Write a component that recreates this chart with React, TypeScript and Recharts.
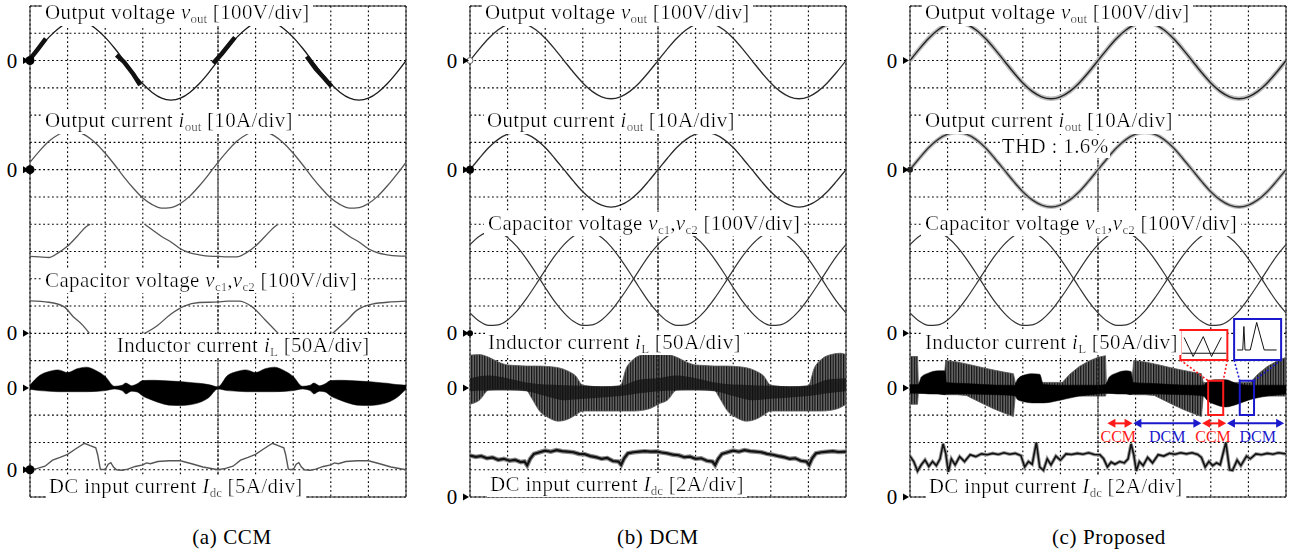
import React from "react";
import {
  ComposedChart,
  Line,
  Area,
  XAxis,
  YAxis,
  CartesianGrid,
  ReferenceLine,
  ReferenceArea,
  ReferenceDot,
} from "recharts";

type Pt = [number, number | null];
type Band = [number, number, number];

// all values are in scope divisions, relative to the channel's zero marker
const STEP = 0.25;
const X_TICKS = [0, 1, 2, 3, 4, 5, 6, 7, 8, 9, 10];
const Y_TICKS = [0, 1, 2, 3, 4, 5, 6, 7, 8, 9, 10, 11, 12, 13, 14, 15, 16, 17, 18];

// channel zero levels (divisions above the bottom of the screen)
const ZERO_A = { vOut: 16, iOut: 12, vC: 6, iL: 4, iDc: 1 };
const ZERO_BC = { vOut: 16, iOut: 12, vC: 6, iL: 4, iDc: 0 };

// ---- (a) CCM ----
const vOutA = [0, 0.45, 0.85, 1.17, 1.38, 1.45, 1.38, 1.17, 0.85, 0.45, 0, -0.45, -0.85, -1.17, -1.38, -1.45, -1.38, -1.17, -0.85, -0.45,
  0, 0.45, 0.85, 1.17, 1.38, 1.45, 1.38, 1.17, 0.85, 0.45, 0, -0.45, -0.85, -1.17, -1.38, -1.45, -1.38, -1.17, -0.85, -0.45, 0];
const vOutNoiseA: Pt[] = [[0, 0.05], [0.2, 0.4], [0.42, 0.8], [0.43, null], [2.3, 0.2], [2.5, -0.05], [2.75, -0.5], [2.93, -0.9], [2.94, null],
  [4.87, -0.1], [5.1, 0.25], [5.45, 0.85], [5.46, null], [7.36, 0.15], [7.6, -0.3], [7.8, -0.6], [8.02, -0.95]];
const iOutA = [0.27, 0.68, 1.04, 1.28, 1.41, 1.39, 1.24, 0.97, 0.6, 0.18, -0.27, -0.68, -1.04, -1.28, -1.41, -1.39, -1.24, -0.97, -0.6, -0.18,
  0.27, 0.68, 1.04, 1.28, 1.41, 1.39, 1.24, 0.97, 0.6, 0.18, -0.27, -0.68, -1.04, -1.28, -1.41, -1.39, -1.24, -0.97, -0.6, -0.18, 0.27];
const vC1A: Pt[] = [[0, 2.82], [0.25, 2.8], [0.5, 2.78], [0.75, 2.95], [1.0, 3.2], [1.25, 3.55], [1.5, 3.92], [1.6, 4.0], [1.61, null],
  [3.05, 4.0], [3.25, 3.8], [3.5, 3.55], [3.75, 3.35], [4.0, 3.1], [4.25, 2.95], [4.5, 2.88], [4.75, 2.83], [5.0, 2.82], [5.25, 2.8],
  [5.5, 2.8], [5.75, 2.95], [6.0, 3.2], [6.25, 3.55], [6.5, 3.9], [6.6, 4.0], [6.61, null], [8.05, 4.0], [8.25, 3.8], [8.5, 3.55],
  [8.75, 3.35], [9.0, 3.1], [9.25, 2.95], [9.5, 2.88], [9.75, 2.84], [10, 2.83]];
const vC2A: Pt[] = [[0, 1.19], [0.5, 1.14], [0.9, 0.98], [1.15, 0.61], [1.4, 0.3], [1.58, 0], [1.59, null], [3.05, 0], [3.4, 0.3],
  [3.75, 0.71], [4.1, 1.0], [4.5, 1.13], [5.0, 1.15], [5.25, 1.18], [5.55, 1.18], [5.9, 0.98], [6.25, 0.5], [6.6, 0], [6.61, null],
  [8.05, 0], [8.4, 0.44], [8.7, 0.85], [9.1, 1.07], [9.6, 1.15], [10, 1.18]];
const iLA: Band[] = [[0, -0.05, 0.1], [0.25, -0.1, 0.45], [0.5, -0.12, 0.6], [0.75, -0.14, 0.66], [1.0, -0.14, 0.56], [1.25, -0.14, 0.7],
  [1.5, -0.14, 0.76], [1.75, -0.13, 0.64], [2.0, -0.1, 0.42], [2.25, -0.04, 0.06], [2.45, -0.1, 0.1], [2.55, -0.22, 0.18], [2.7, -0.12, 0.08],
  [2.85, -0.15, 0.15], [3.0, -0.3, 0.27], [3.25, -0.45, 0.28], [3.5, -0.57, 0.27], [3.75, -0.64, 0.25], [4.0, -0.65, 0.23], [4.25, -0.62, 0.2],
  [4.5, -0.54, 0.17], [4.75, -0.36, 0.12], [5.0, -0.04, 0.04], [5.25, -0.1, 0.45], [5.5, -0.12, 0.6], [5.75, -0.14, 0.66], [6.0, -0.14, 0.56],
  [6.25, -0.14, 0.7], [6.5, -0.14, 0.76], [6.75, -0.13, 0.64], [7.0, -0.1, 0.42], [7.25, -0.04, 0.06], [7.45, -0.1, 0.1], [7.55, -0.22, 0.18],
  [7.7, -0.12, 0.08], [7.85, -0.15, 0.15], [8.0, -0.3, 0.27], [8.25, -0.45, 0.28], [8.5, -0.57, 0.27], [8.75, -0.64, 0.25], [9.0, -0.65, 0.23],
  [9.25, -0.62, 0.2], [9.5, -0.54, 0.17], [9.75, -0.36, 0.12], [10, -0.05, 0.1]];
const iDcA: Pt[] = [[0, 0], [0.2, 0.05], [0.4, 0.13], [0.6, 0.35], [0.8, 0.45], [1.0, 0.56], [1.2, 0.75], [1.45, 0.97], [1.6, 0.88], [1.75, 0.8],
  [1.8, 0.55], [1.87, 0.02], [2.0, 0], [2.08, 0.2], [2.15, 0.26], [2.22, 0.1], [2.3, 0], [2.45, -0.02], [2.6, 0.02], [2.8, 0.12], [3.0, 0.18],
  [3.1, 0.25], [3.2, 0.22], [3.4, 0.3], [3.7, 0.33], [4.0, 0.33], [4.3, 0.22], [4.6, 0.1], [5.0, 0], [5.2, 0.05], [5.4, 0.13], [5.6, 0.35],
  [5.8, 0.45], [6.0, 0.56], [6.2, 0.75], [6.45, 0.97], [6.6, 0.88], [6.75, 0.8], [6.8, 0.55], [6.87, 0.02], [7.0, 0], [7.08, 0.2], [7.15, 0.26],
  [7.22, 0.1], [7.3, 0], [7.45, -0.02], [7.6, 0.02], [7.8, 0.12], [8.0, 0.18], [8.1, 0.25], [8.2, 0.22], [8.4, 0.3], [8.7, 0.33], [9.0, 0.33],
  [9.3, 0.22], [9.6, 0.1], [10, 0]];

// ---- (b) DCM and (c) proposed ----
const vOutBC = [0, 0.43, 0.82, 1.13, 1.33, 1.4, 1.33, 1.13, 0.82, 0.43, 0, -0.43, -0.82, -1.13, -1.33, -1.4, -1.33, -1.13, -0.82, -0.43,
  0, 0.43, 0.82, 1.13, 1.33, 1.4, 1.33, 1.13, 0.82, 0.43, 0, -0.43, -0.82, -1.13, -1.33, -1.4, -1.33, -1.13, -0.82, -0.43, 0];
const iOutBC = [0, 0.42, 0.81, 1.11, 1.3, 1.37, 1.3, 1.11, 0.81, 0.42, 0, -0.42, -0.81, -1.11, -1.3, -1.37, -1.3, -1.11, -0.81, -0.42,
  0, 0.42, 0.81, 1.11, 1.3, 1.37, 1.3, 1.11, 0.81, 0.42, 0, -0.42, -0.81, -1.11, -1.3, -1.37, -1.3, -1.11, -0.81, -0.42, 0];
const vC1BC = [0.75, 0.44, 0.29, 0.31, 0.49, 0.82, 1.27, 1.78, 2.32, 2.83, 3.25, 3.56, 3.71, 3.69, 3.51, 3.18, 2.73, 2.22, 1.68, 1.17,
  0.75, 0.44, 0.29, 0.31, 0.49, 0.82, 1.27, 1.78, 2.32, 2.83, 3.25, 3.56, 3.71, 3.69, 3.51, 3.18, 2.73, 2.22, 1.68, 1.17, 0.75];
const vC2BC = [3.25, 3.56, 3.71, 3.69, 3.51, 3.18, 2.73, 2.22, 1.68, 1.17, 0.75, 0.44, 0.29, 0.31, 0.49, 0.82, 1.27, 1.78, 2.32, 2.83,
  3.25, 3.56, 3.71, 3.69, 3.51, 3.18, 2.73, 2.22, 1.68, 1.17, 0.75, 0.44, 0.29, 0.31, 0.49, 0.82, 1.27, 1.78, 2.32, 2.83, 3.25];
const iLB: Band[] = [[0, -0.6, 1.2], [0.25, -0.45, 1.22], [0.5, -0.08, 1.12], [0.75, -0.06, 0.95], [1.0, -0.06, 0.84], [1.25, -0.06, 0.82],
  [1.5, -0.1, 0.8], [1.65, -0.4, 0.8], [1.85, -0.85, 0.8], [2.1, -1.1, 0.78], [2.35, -1.22, 0.74], [2.6, -1.15, 0.62], [2.8, -1.0, 0.45],
  [3.0, -0.85, 0.1], [3.5, -0.85, 0.04], [4.0, -0.85, 0.08], [4.15, -0.85, 0.7], [4.35, -0.85, 1.05], [4.6, -0.82, 1.22], [4.85, -0.72, 1.27],
  [5.0, -0.6, 1.22], [5.25, -0.45, 1.22], [5.5, -0.08, 1.12], [5.75, -0.06, 0.95], [6.0, -0.06, 0.84], [6.25, -0.06, 0.82], [6.5, -0.1, 0.8],
  [6.65, -0.4, 0.8], [6.85, -0.85, 0.8], [7.1, -1.1, 0.78], [7.35, -1.22, 0.74], [7.6, -1.15, 0.62], [7.8, -1.0, 0.45], [8.0, -0.85, 0.1],
  [8.5, -0.85, 0.04], [9.0, -0.85, 0.08], [9.15, -0.85, 0.7], [9.35, -0.85, 1.05], [9.6, -0.82, 1.22], [9.85, -0.72, 1.27], [10, -0.6, 1.22]];
// dense switching core around zero
const iLCoreB: Band[] = [[0, -0.12, 0.35], [0.5, -0.1, 0.45], [1.0, -0.1, 0.35], [1.5, -0.12, 0.2], [2.0, -0.3, 0.12], [2.5, -0.45, 0.1],
  [3.0, -0.4, 0.08], [3.5, -0.35, 0.06], [4.0, -0.3, 0.08], [4.5, -0.2, 0.3], [5.0, -0.12, 0.35], [5.5, -0.1, 0.45], [6.0, -0.1, 0.35],
  [6.5, -0.12, 0.2], [7.0, -0.3, 0.12], [7.5, -0.45, 0.1], [8.0, -0.4, 0.08], [8.5, -0.35, 0.06], [9.0, -0.3, 0.08], [9.5, -0.2, 0.3],
  [10, -0.12, 0.35]];
const iDcB: Pt[] = [[0, 1.52], [0.15, 1.47], [0.3, 1.5], [0.45, 1.42], [0.6, 1.45], [0.75, 1.36], [0.9, 1.4], [1.05, 1.33], [1.2, 1.36],
  [1.35, 1.28], [1.45, 1.3], [1.52, 1.16], [1.6, 1.4], [1.7, 1.58], [1.85, 1.64], [2.0, 1.7], [2.15, 1.66], [2.3, 1.72], [2.45, 1.68],
  [2.6, 1.66], [2.75, 1.64], [2.9, 1.58], [3.05, 1.57], [3.2, 1.5], [3.35, 1.46], [3.5, 1.4], [3.65, 1.43], [3.8, 1.32], [3.95, 1.3],
  [4.02, 1.18], [4.1, 1.42], [4.2, 1.6], [4.35, 1.64], [4.5, 1.66], [4.65, 1.68], [4.8, 1.66], [4.95, 1.67], [5.1, 1.63], [5.25, 1.6],
  [5.4, 1.55], [5.55, 1.53], [5.7, 1.46], [5.85, 1.48], [6.0, 1.4], [6.15, 1.42], [6.3, 1.33], [6.45, 1.3], [6.52, 1.17], [6.6, 1.4],
  [6.7, 1.58], [6.85, 1.64], [7.0, 1.7], [7.15, 1.66], [7.3, 1.72], [7.45, 1.68], [7.6, 1.66], [7.75, 1.64], [7.9, 1.58], [8.05, 1.55],
  [8.2, 1.5], [8.35, 1.46], [8.5, 1.4], [8.65, 1.42], [8.8, 1.33], [8.95, 1.3], [9.02, 1.17], [9.1, 1.42], [9.2, 1.6], [9.35, 1.64],
  [9.5, 1.66], [9.65, 1.68], [9.8, 1.65], [10, 1.66]];
const iLGrayC: Band[] = [[0, -0.6, 1.15], [0.2, -0.6, 1.15], [0.22, -0.2, 0.2], [0.9, -0.22, 0.2], [0.95, -0.25, 1.0], [1.25, -0.25, 0.95],
  [1.5, -0.28, 0.88], [1.75, -0.45, 0.8], [2.0, -0.62, 0.72], [2.25, -0.78, 0.65], [2.5, -0.92, 0.58], [2.75, -1.05, 0.52], [2.8, -0.3, 0.2],
  [4.05, -0.3, 0.2], [4.25, -0.3, 0.5], [4.5, -0.3, 0.78], [4.75, -0.3, 0.98], [5.0, -0.3, 1.12], [5.2, -0.3, 1.18], [5.22, -0.2, 0.2],
  [5.9, -0.22, 0.2], [5.95, -0.25, 1.0], [6.25, -0.25, 0.95], [6.5, -0.28, 0.88], [6.75, -0.45, 0.8], [7.0, -0.62, 0.72], [7.25, -0.78, 0.65],
  [7.5, -0.92, 0.58], [7.75, -1.05, 0.52], [7.8, -0.3, 0.2], [9.05, -0.3, 0.2], [9.25, -0.3, 0.5], [9.5, -0.3, 0.78], [9.75, -0.3, 0.98],
  [10, -0.3, 1.12]];
const iLBlackC: Band[] = [[0, -0.2, 0.12], [0.22, -0.2, 0.12], [0.3, -0.2, 0.4], [0.5, -0.22, 0.55], [0.75, -0.22, 0.63], [0.92, -0.25, 0.63],
  [0.97, -0.22, 0.2], [1.5, -0.22, 0.16], [2.0, -0.24, 0.12], [2.5, -0.26, 0.1], [2.8, -0.3, 0.1], [2.85, -0.42, 0.3], [3.0, -0.5, 0.45],
  [3.25, -0.55, 0.52], [3.45, -0.55, 0.5], [3.55, -0.55, 0.12], [4.0, -0.45, 0.1], [4.5, -0.3, 0.1], [5.0, -0.22, 0.1], [5.2, -0.2, 0.12],
  [5.3, -0.2, 0.4], [5.5, -0.22, 0.55], [5.75, -0.22, 0.63], [5.88, -0.25, 0.6], [5.93, -0.22, 0.2], [6.5, -0.22, 0.16], [7.0, -0.24, 0.12],
  [7.5, -0.26, 0.1], [7.8, -0.3, 0.1], [7.9, -0.45, 0.2], [8.1, -0.6, 0.3], [8.4, -0.7, 0.3], [8.7, -0.6, 0.15], [9.0, -0.45, 0.1],
  [9.5, -0.3, 0.1], [10, -0.22, 0.1]];
const iDcC: Pt[] = [[0, 1.5], [0.1, 1.3], [0.2, 0.95], [0.3, 1.18], [0.4, 1.36], [0.5, 1.12], [0.6, 1.3], [0.7, 1.15], [0.8, 1.4], [0.88, 1.95],
  [0.95, 1.6], [1.02, 0.92], [1.1, 1.4], [1.2, 1.18], [1.32, 1.48], [1.45, 1.3], [1.6, 1.55], [1.75, 1.48], [1.9, 1.58], [2.05, 1.55],
  [2.2, 1.6], [2.35, 1.56], [2.5, 1.62], [2.65, 1.57], [2.8, 1.6], [2.95, 1.52], [3.05, 1.1], [3.15, 1.3], [3.25, 1.2], [3.36, 2.0],
  [3.45, 1.1], [3.55, 0.98], [3.65, 1.4], [3.75, 1.18], [3.88, 1.5], [4.0, 1.35], [4.15, 1.58], [4.3, 1.56], [4.45, 1.6], [4.6, 1.57],
  [4.75, 1.62], [4.9, 1.56], [5.05, 1.55], [5.15, 1.4], [5.25, 1.1], [5.35, 1.28], [5.45, 1.2], [5.58, 1.3], [5.7, 1.25], [5.8, 1.4],
  [5.88, 1.95], [5.95, 1.55], [6.02, 0.95], [6.1, 1.3], [6.2, 1.15], [6.32, 1.45], [6.45, 1.25], [6.6, 1.55], [6.75, 1.5], [6.9, 1.6],
  [7.05, 1.57], [7.2, 1.62], [7.35, 1.58], [7.5, 1.62], [7.65, 1.56], [7.75, 1.45], [7.85, 1.1], [7.95, 1.3], [8.05, 1.15], [8.15, 1.25],
  [8.25, 1.18], [8.4, 2.0], [8.5, 1.0], [8.58, 0.98], [8.7, 1.35], [8.8, 1.15], [8.95, 1.5], [9.05, 1.4], [9.2, 1.58], [9.35, 1.55],
  [9.5, 1.6], [9.65, 1.57], [9.8, 1.62], [10, 1.58]];

// zoomed switching-period sketches in the two inset boxes of (c)
const insetCcm: Pt[] = [[7.29, 5.85], [7.53, 5.15], [7.8, 5.88], [8.02, 5.15], [8.28, 5.85]];
const insetCcmBase: Pt[] = [[7.24, 5.27], [8.41, 5.27]];
const insetDcm: Pt[] = [[8.7, 5.39], [8.85, 5.39], [8.88, 6.25], [8.91, 5.39], [9.05, 5.39], [9.22, 6.4], [9.42, 5.39], [9.75, 5.39]];

const SERIF = "'Liberation Serif', 'Times New Roman', Times, serif";
const PLOT_W = 376;
const AXIS_W = 30;

const steps = (vals: number[], zero: number) => vals.map((v, i) => ({ x: i * STEP, y: v + zero }));
const pts = (list: Pt[], zero: number) => list.map(([x, v]) => ({ x, y: v === null ? null : v + zero }));
const bands = (list: Band[], zero: number) => list.map(([x, lo, hi]) => ({ x, y: [lo + zero, hi + zero] }));

const ZeroTick = (p: any) => (
  <g>
    <text x={AXIS_W - 18} y={p.y + 7} textAnchor="middle" fontSize={21} fontFamily={SERIF} fill="#000">0</text>
    <path d={`M${AXIS_W - 7},${p.y - 3.5} L${AXIS_W - 1},${p.y} L${AXIS_W - 7},${p.y + 3.5} Z`} fill="#000" />
  </g>
);

// text drawn on a white box (the scope's label plate) so grid and border vanish behind it
const txt = (content: React.ReactNode, size = 21, fill = "#000", anchor: "start" | "middle" = "start", spacing = 0.35, plate = true) =>
  (p: any) => (
    <text x={p.cx} y={p.cy} fontSize={size} fontFamily={SERIF} fill={fill} textAnchor={anchor} letterSpacing={spacing}
      filter={plate ? "url(#plate)" : undefined}>{content}</text>
  );

const arrow = (color: string) => (p: any) => {
  const { x1, y1, x2, y2 } = p;
  const a = Math.min(x1, x2);
  const b = Math.max(x1, x2);
  return (
    <g>
      <line x1={a + 6} y1={y1} x2={b - 6} y2={y2} stroke={color} strokeWidth={2} />
      <path d={`M${a},${y1} L${a + 8},${y1 - 4.5} L${a + 8},${y1 + 4.5} Z`} fill={color} />
      <path d={`M${b},${y2} L${b - 8},${y2 - 4.5} L${b - 8},${y2 + 4.5} Z`} fill={color} />
    </g>
  );
};

const sub = (s: string) => <tspan fontSize={13} dy={4} letterSpacing={0}>{s}</tspan>;
const up = (s: string) => <tspan dy={-4}>{s}</tspan>;
const T_VOUT = <>Output voltage <tspan fontStyle="italic">v</tspan>{sub("out")}{up(" [100V/div]")}</>;
const T_IOUT = <>Output current <tspan fontStyle="italic">i</tspan>{sub("out")}{up(" [10A/div]")}</>;
const T_VC = <>Capacitor voltage <tspan fontStyle="italic">v</tspan>{sub("c1")}{up(",")}<tspan fontStyle="italic">v</tspan>{sub("c2")}{up(" [100V/div]")}</>;
const T_IL = <>Inductor current <tspan fontStyle="italic">i</tspan>{sub("L")}{up(" [50A/div]")}</>;
const tDc = (scale: string) => <>DC input current <tspan fontStyle="italic">I</tspan>{sub("dc")}{up(` [${scale}]`)}</>;

const RED = "#ff1a1a";
const BLUE = "#1a1acc";
const TOP_LABEL_Y = 17.52;

function Scope({ left, zeros, children }: { left: number; zeros: number[]; children: React.ReactNode }) {
  return (
    <div style={{ position: "absolute", left, top: 0 }}>
      <ComposedChart width={AXIS_W + PLOT_W + 6} height={514} margin={{ top: 6, right: 6, bottom: 17, left: 0 }}>
        <defs>
          <pattern id={`hatch${left}`} width="2.6" height="6" patternUnits="userSpaceOnUse">
            <rect width="2.6" height="6" fill="#6e6e6e" />
            <rect width="1.2" height="6" fill="#0d0d0d" />
          </pattern>
          <filter id="plate" x="-0.01" y="0.06" width="1.02" height="0.9">
            <feFlood floodColor="#fff" />
            <feComposite in="SourceGraphic" operator="over" />
          </filter>
        </defs>
        <CartesianGrid stroke="#000" strokeWidth={1.1} strokeDasharray="1.8 2.6" />
        <XAxis type="number" dataKey="x" domain={[0, 10]} ticks={X_TICKS} hide allowDataOverflow />
        <YAxis type="number" domain={[0, 18]} ticks={Y_TICKS} hide allowDataOverflow />
        <YAxis yAxisId="z" type="number" domain={[0, 18]} ticks={zeros} interval={0} width={AXIS_W}
          axisLine={false} tickLine={false} tickSize={0} tickMargin={0} tick={ZeroTick} allowDataOverflow />
        <ReferenceLine x={5} stroke="#111" strokeDasharray="3 1.5" />
        <ReferenceArea x1={0} x2={10} y1={0} y2={18} fill="none" stroke="#222" strokeWidth={1} />
        {children}
      </ComposedChart>
    </div>
  );
}

const line = { dataKey: "y", dot: false, activeDot: false, isAnimationActive: false } as const;
const label = { r: 1, ifOverflow: "visible" as const, zIndex: 2000 };

function PanelA() {
  const z = ZERO_A;
  return (
    <Scope left={0} zeros={[z.vOut, z.iOut, z.vC, z.iL, z.iDc]}>
      <Area data={bands(iLA, z.iL)} {...line} type="monotone" stroke="#000" strokeWidth={0.5} fill="#000" fillOpacity={1} />
      <Line data={steps(vOutA, z.vOut)} {...line} type="monotone" stroke="#1a1a1a" strokeWidth={1.3} />
      <Line data={pts(vOutNoiseA, z.vOut)} {...line} type="linear" stroke="#111" strokeWidth={4.5} />
      <Line data={steps(iOutA, z.iOut)} {...line} type="monotone" stroke="#555" strokeWidth={1.3} />
      <Line data={pts(vC1A, z.vC)} {...line} type="monotone" stroke="#555" strokeWidth={1.3} />
      <Line data={pts(vC2A, z.vC)} {...line} type="monotone" stroke="#555" strokeWidth={1.3} />
      <Line data={pts(iDcA, z.iDc)} {...line} type="linear" stroke="#555" strokeWidth={1.4} />
      <ReferenceDot x={0} y={z.vOut} r={4.5} fill="#000" stroke="none" />
      <ReferenceDot x={0} y={z.iOut} r={4.5} fill="#000" stroke="none" />
      <ReferenceDot x={0} y={z.iDc} r={4.5} fill="#000" stroke="none" />
      <ReferenceDot x={0.4} y={TOP_LABEL_Y} {...label} shape={txt(T_VOUT)} />
      <ReferenceDot x={0.4} y={13.56} {...label} shape={txt(T_IOUT)} />
      <ReferenceDot x={0.4} y={7.7} {...label} shape={txt(T_VC)} />
      <ReferenceDot x={2.31} y={5.32} {...label} shape={txt(T_IL)} />
      <ReferenceDot x={0.5} y={0.15} {...label} shape={txt(tDc("5A/div"))} />
    </Scope>
  );
}

function PanelB() {
  const z = ZERO_BC;
  return (
    <Scope left={440} zeros={[z.vOut, z.iOut, z.vC, z.iL, z.iDc]}>
      <Area data={bands(iLB, z.iL)} {...line} type="monotone" stroke="#5a5a5a" strokeWidth={0.8} fill="url(#hatch440)" fillOpacity={1} />
      <Area data={bands(iLCoreB, z.iL)} {...line} type="monotone" stroke="none" fill="#111" fillOpacity={0.75} />
      <Line data={steps(vOutBC, z.vOut)} {...line} type="monotone" stroke="#2a2a2a" strokeWidth={1.3} />
      <Line data={steps(iOutBC, z.iOut)} {...line} type="monotone" stroke="#2a2a2a" strokeWidth={1.3} />
      <Line data={steps(vC1BC, z.vC)} {...line} type="monotone" stroke="#333" strokeWidth={1.2} />
      <Line data={steps(vC2BC, z.vC)} {...line} type="monotone" stroke="#333" strokeWidth={1.2} />
      <Line data={pts(iDcB, z.iDc)} {...line} type="linear" stroke="#888" strokeWidth={4.5} />
      <Line data={pts(iDcB, z.iDc)} {...line} type="linear" stroke="#111" strokeWidth={2.2} />
      <ReferenceDot x={0} y={z.vOut} r={3} fill="#fff" stroke="#666" />
      <ReferenceDot x={0} y={z.iOut} r={4} fill="#000" stroke="none" />
      <ReferenceDot x={0} y={z.vC} r={3} fill="#000" stroke="none" />
      <ReferenceDot x={0.4} y={TOP_LABEL_Y} {...label} shape={txt(T_VOUT)} />
      <ReferenceDot x={0.45} y={13.56} {...label} shape={txt(T_IOUT)} />
      <ReferenceDot x={0.48} y={9.79} {...label} shape={txt(T_VC)} />
      <ReferenceDot x={0.48} y={5.43} {...label} shape={txt(T_IL)} />
      <ReferenceDot x={0.53} y={0.22} {...label} shape={txt(tDc("2A/div"))} />
    </Scope>
  );
}

function PanelC() {
  const z = ZERO_BC;
  return (
    <Scope left={880} zeros={[z.vOut, z.iOut, z.vC, z.iL, z.iDc]}>
      <Area data={bands(iLGrayC, z.iL)} {...line} type="linear" stroke="#555" strokeWidth={0.8} fill="url(#hatch880)" fillOpacity={1} />
      <Area data={bands(iLBlackC, z.iL)} {...line} type="monotone" stroke="#000" strokeWidth={0.5} fill="#000" fillOpacity={1} />
      <Line data={steps(vOutBC, z.vOut)} {...line} type="monotone" stroke="#bdbdbd" strokeWidth={4.5} />
      <Line data={steps(vOutBC, z.vOut)} {...line} type="monotone" stroke="#222" strokeWidth={1.4} />
      <Line data={steps(iOutBC, z.iOut)} {...line} type="monotone" stroke="#bdbdbd" strokeWidth={4} />
      <Line data={steps(iOutBC, z.iOut)} {...line} type="monotone" stroke="#333" strokeWidth={1.4} />
      <Line data={steps(vC1BC, z.vC)} {...line} type="monotone" stroke="#333" strokeWidth={1.2} />
      <Line data={steps(vC2BC, z.vC)} {...line} type="monotone" stroke="#333" strokeWidth={1.2} />
      <Line data={pts(iDcC, z.iDc)} {...line} type="linear" stroke="#999" strokeWidth={3.5} />
      <Line data={pts(iDcC, z.iDc)} {...line} type="linear" stroke="#111" strokeWidth={1.6} />
      <ReferenceDot x={0} y={z.iOut} r={3} fill="#222" stroke="none" />

      <ReferenceArea x1={7.93} x2={8.33} y1={3.01} y2={4.26} fill="none" stroke={RED} strokeWidth={2} />
      <ReferenceArea x1={8.77} x2={9.15} y1={3.01} y2={4.26} fill="none" stroke={BLUE} strokeWidth={2} />
      <ReferenceLine segment={[{ x: 7.19, y: 5.02 }, { x: 7.93, y: 4.26 }]} stroke={RED} strokeWidth={1.6} strokeDasharray="2 2" />
      <ReferenceLine segment={[{ x: 8.44, y: 5.02 }, { x: 8.33, y: 4.26 }]} stroke={RED} strokeWidth={1.6} strokeDasharray="2 2" />
      <ReferenceLine segment={[{ x: 8.62, y: 5.02 }, { x: 8.77, y: 4.26 }]} stroke={BLUE} strokeWidth={1.6} strokeDasharray="2 2" />
      <ReferenceLine segment={[{ x: 9.87, y: 5.02 }, { x: 9.15, y: 4.26 }]} stroke={BLUE} strokeWidth={1.6} strokeDasharray="2 2" />
      <ReferenceArea x1={7.19} x2={8.44} y1={5.02} y2={6.12} fill="#fff" fillOpacity={1} stroke={RED} strokeWidth={2} />
      <ReferenceArea x1={8.62} x2={9.87} y1={5.02} y2={6.53} fill="#fff" fillOpacity={1} stroke={BLUE} strokeWidth={2} />
      <Line data={pts(insetCcm, 0)} {...line} type="linear" stroke="#111" strokeWidth={1} />
      <Line data={pts(insetCcmBase, 0)} {...line} type="linear" stroke="#111" strokeWidth={1} />
      <Line data={pts(insetDcm, 0)} {...line} type="linear" stroke="#111" strokeWidth={1} />

      <ReferenceLine segment={[{ x: 5.25, y: 2.7 }, { x: 5.92, y: 2.7 }]} shape={arrow(RED)} />
      <ReferenceLine segment={[{ x: 5.94, y: 2.7 }, { x: 7.75, y: 2.7 }]} shape={arrow(BLUE)} />
      <ReferenceLine segment={[{ x: 7.77, y: 2.7 }, { x: 8.41, y: 2.7 }]} shape={arrow(RED)} />
      <ReferenceLine segment={[{ x: 8.43, y: 2.7 }, { x: 9.95, y: 2.7 }]} shape={arrow(BLUE)} />
      <ReferenceDot x={5.54} y={2.02} {...label} shape={txt("CCM", 16, RED, "middle", 0, false)} />
      <ReferenceDot x={6.84} y={2.02} {...label} shape={txt("DCM", 16, BLUE, "middle", 0, false)} />
      <ReferenceDot x={8.06} y={2.02} {...label} shape={txt("CCM", 16, RED, "middle", 0, false)} />
      <ReferenceDot x={9.25} y={2.02} {...label} shape={txt("DCM", 16, BLUE, "middle", 0, false)} />

      <ReferenceDot x={0.4} y={TOP_LABEL_Y} {...label} shape={txt(T_VOUT)} />
      <ReferenceDot x={0.4} y={13.56} {...label} shape={txt(T_IOUT)} />
      <ReferenceDot x={2.44} y={12.61} {...label} shape={txt("THD : 1.6%")} />
      <ReferenceDot x={0.4} y={9.79} {...label} shape={txt(T_VC)} />
      <ReferenceDot x={0.4} y={5.43} {...label} shape={txt(T_IL)} />
      <ReferenceDot x={0.5} y={0.15} {...label} shape={txt(tDc("2A/div"))} />
    </Scope>
  );
}

const captionStyle: React.CSSProperties = {
  position: "absolute", top: 527, width: 240, textAlign: "center", fontFamily: SERIF, fontSize: 21, lineHeight: "21px",
  letterSpacing: 0.6, color: "#000",
};

export default function App() {
  return (
    <div style={{ position: "absolute", left: 0, top: 0, width: 1299, height: 555, background: "#fff", overflow: "hidden" }}>
      <PanelA />
      <PanelB />
      <PanelC />
      <div style={{ ...captionStyle, left: 232 - 120 }}>(a) CCM</div>
      <div style={{ ...captionStyle, left: 658 - 120 }}>(b) DCM</div>
      <div style={{ ...captionStyle, left: 1109 - 120 }}>(c) Proposed</div>
    </div>
  );
}
